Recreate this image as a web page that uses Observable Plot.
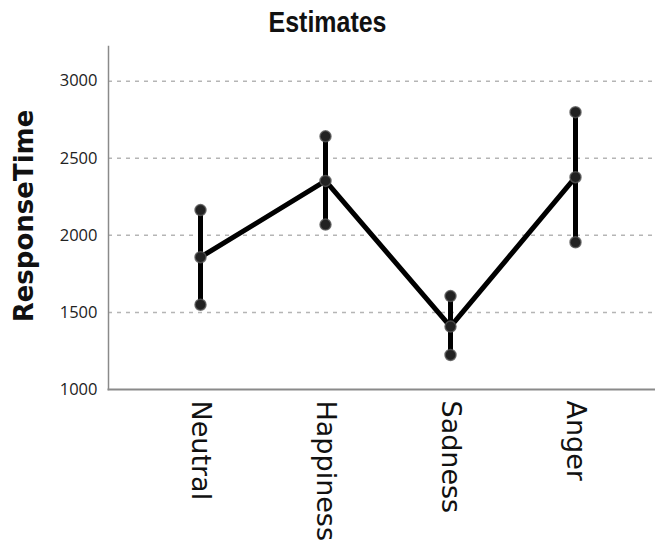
<!DOCTYPE html>
<html>
<head>
<meta charset="utf-8">
<script src="https://cdn.jsdelivr.net/npm/d3@7"></script>
<script src="https://cdn.jsdelivr.net/npm/@observablehq/plot@0.6"></script>
<style>
  html, body { margin: 0; padding: 0; background: #fff; }
  #wrap { width: 655px; height: 548px; position: relative; overflow: hidden; }
  #title { height: 40px; width: 655px; text-align: center; }
  #title span { display: inline-block; font-family: "Liberation Sans", Arial, sans-serif; font-weight: bold; font-size: 29px; line-height: 29px; margin-top: 8px; transform: scale(0.86, 1); color: #111; }
  #ylab { position: absolute; left: 24px; top: 216px; transform: translate(-50%, -50%) rotate(-90deg); font-family: "DejaVu Sans", sans-serif; font-weight: bold; font-size: 26px; white-space: nowrap; color: #111; }
</style>
</head>
<body>
<div id="wrap">
  <div id="title"><span>Estimates</span></div>
  <div id="ylab">ResponseTime</div>
  <div id="chart"></div>
</div>
<script>
const categories = ["Neutral", "Happiness", "Sadness", "Anger"];
const means = [1858, 2353, 1408, 2377];
const lower = [1550, 2070, 1224, 1955];
const upper = [2164, 2642, 1606, 2799];
const yTicks = [1000, 1500, 2000, 2500, 3000];
const gridTicks = [1500, 2000, 2500, 3000];

const rows = categories.map((c, i) => ({cat: c, mean: means[i], lo: lower[i], hi: upper[i]}));
const pts = rows.flatMap(r => [{cat: r.cat, v: r.hi}, {cat: r.cat, v: r.mean}, {cat: r.cat, v: r.lo}]);

const chart = Plot.plot({
  width: 655,
  height: 508,
  marginTop: 6,
  marginBottom: 159,
  marginLeft: 108,
  marginRight: 1,
  style: {fontFamily: "Open Sans, sans-serif", background: "white", overflow: "visible"},
  x: {type: "point", domain: categories, padding: 0.668, align: 0.536, label: null},
  y: {domain: [1000, 3225], label: null},
  marks: [
    Plot.ruleY(gridTicks, {stroke: "#b5b5b5", strokeWidth: 1.5, strokeDasharray: "4,5"}),
    Plot.axisY({ticks: yTicks, tickFormat: d => String(d), tickSize: 0, tickPadding: 11, fontSize: 16.5, fill: "#222", label: null}),
    Plot.axisX({tickSize: 0, tickPadding: 11, tickRotate: 90, fontSize: 27, fill: "#111", label: null, fontFamily: "DejaVu Sans, sans-serif"}),
    Plot.frame({anchor: "left", stroke: "#8a8a8a", strokeWidth: 1.5}),
    Plot.frame({anchor: "bottom", stroke: "#8a8a8a", strokeWidth: 2}),
    Plot.ruleX(rows, {x: "cat", y1: "lo", y2: "hi", stroke: "#000", strokeWidth: 5}),
    Plot.line(rows, {x: "cat", y: "mean", stroke: "#000", strokeWidth: 5, strokeLinejoin: "round"}),
    Plot.dot(pts, {x: "cat", y: "v", r: 5.5, fill: "#222", stroke: "#555", strokeWidth: 1.5, strokeOpacity: 0.8})
  ]
});
document.getElementById("chart").appendChild(chart);
</script>
</body>
</html>
